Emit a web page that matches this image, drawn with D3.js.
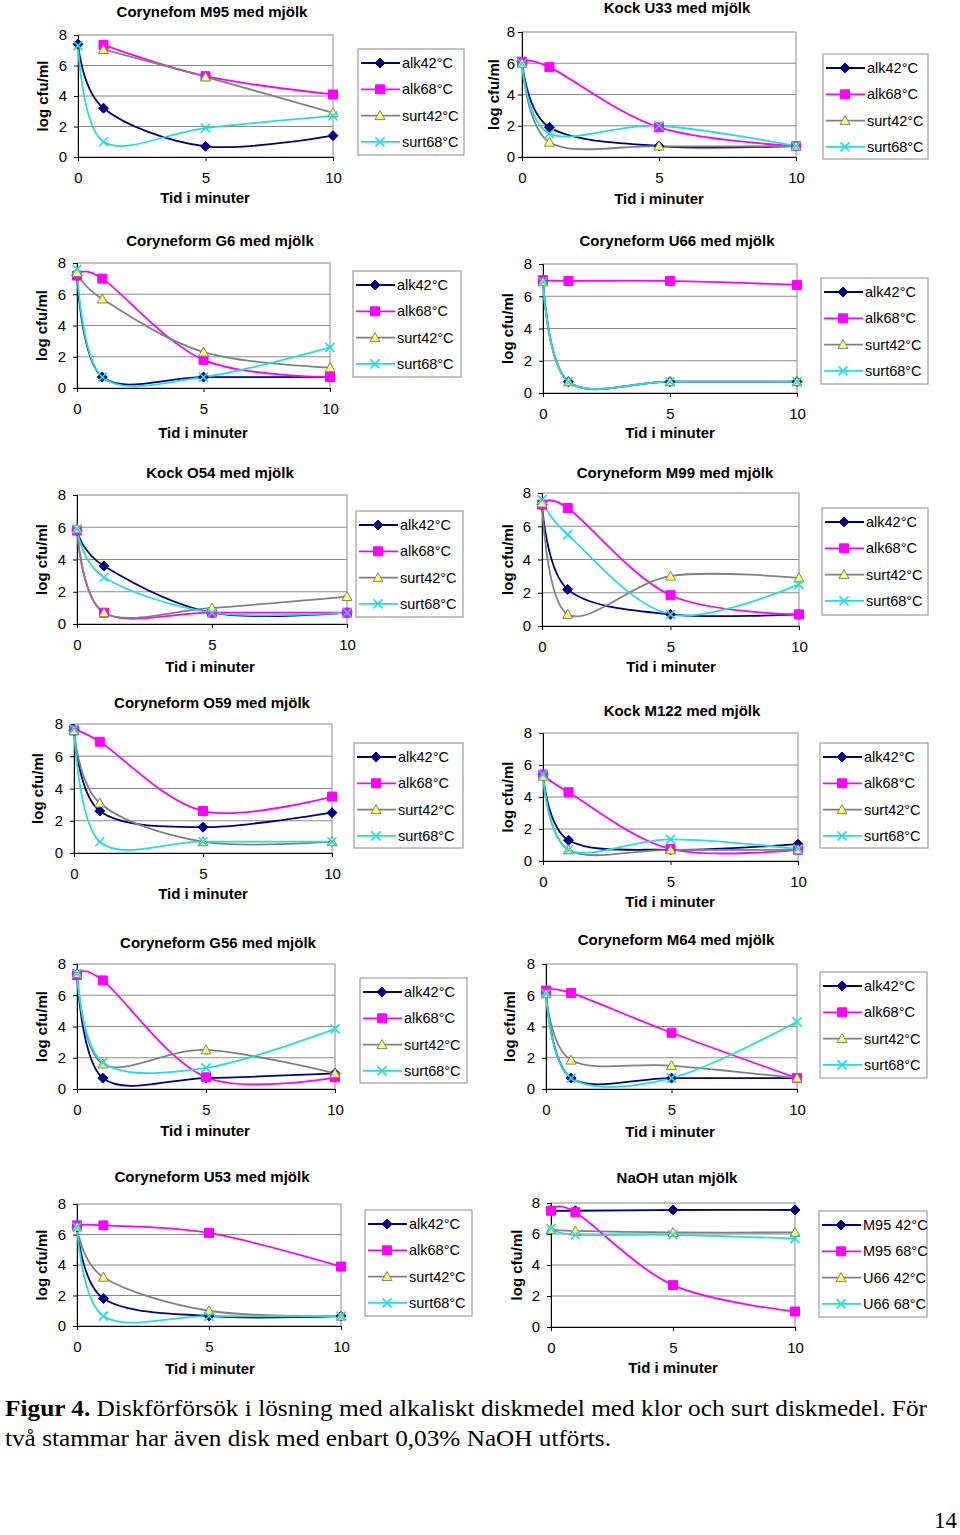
<!DOCTYPE html>
<html><head><meta charset="utf-8">
<script src="https://cdn.jsdelivr.net/npm/d3@7"></script>
<style>body{margin:0;background:#fff} svg{display:block}</style>
</head><body>
<svg id="c" width="960" height="1535"></svg>
<script>
// ---------- data ----------
const times = [0, 1, 5, 10];
const yTicks = [0, 2, 4, 6, 8];
const xTicks = [0, 5, 10];
const seriesMilk = ["alk42°C", "alk68°C", "surt42°C", "surt68°C"];
const seriesNaOH = ["M95 42°C", "M95 68°C", "U66 42°C", "U66 68°C"];
const titles = [
  "Corynefom M95 med mjölk", "Kock U33 med mjölk",
  "Coryneform G6 med mjölk", "Coryneform U66 med mjölk",
  "Kock O54 med mjölk", "Coryneform M99 med mjölk",
  "Coryneform O59 med mjölk", "Kock M122 med mjölk",
  "Coryneform G56 med mjölk", "Coryneform M64 med mjölk",
  "Coryneform U53 med mjölk", "NaOH utan mjölk"
];
const yTitle = "log cfu/ml";
const xTitle = "Tid i minuter";
// values per series at times 0,1,5,10 (log cfu/ml)
const M95  = [[7.4, 3.2, 0.7, 1.4], [null, 7.35, 5.3, 4.1], [null, 7.05, 5.25, 2.9], [7.3, 1.0, 1.9, 2.7]];
const U33  = [[6.1, 1.9, 0.7, 0.7], [6.1, 5.75, 1.9, 0.7], [6.0, 0.95, 0.7, 0.7], [6.0, 1.5, 2.0, 0.7]];
const G6   = [[7.2, 0.7, 0.7, 0.7], [7.2, 7.0, 1.8, 0.7], [7.4, 5.7, 2.3, 1.3], [7.6, 0.7, 0.7, 2.6]];
const U66  = [[7.0, 0.7, 0.7, 0.7], [7.0, 6.95, 6.95, 6.7], [6.9, 0.7, 0.7, 0.7], [6.9, 0.7, 0.7, 0.7]];
const O54  = [[5.8, 3.6, 0.7, 0.7], [5.8, 0.7, 0.7, 0.7], [5.9, 0.7, 1.0, 1.7], [5.9, 2.9, 0.7, 0.7]];
const M99  = [[7.3, 2.2, 0.7, 0.7], [7.3, 7.1, 1.85, 0.7], [7.4, 0.7, 3.0, 2.9], [7.6, 5.5, 0.7, 2.5]];
const O59  = [[7.6, 2.6, 1.6, 2.5], [7.6, 6.9, 2.6, 3.5], [7.6, 3.1, 0.7, 0.7], [7.7, 0.7, 0.7, 0.7]];
const M122 = [[5.4, 1.3, 0.7, 1.05], [5.4, 4.3, 0.75, 0.7], [5.3, 0.7, 0.7, 0.7], [5.4, 0.7, 1.35, 0.75]];
const G56  = [[7.3, 0.7, 0.7, 1.0], [7.3, 6.95, 0.75, 0.75], [7.4, 1.6, 2.5, 1.0], [7.4, 1.7, 1.35, 3.85]];
const M64  = [[6.2, 0.7, 0.7, 0.7], [6.3, 6.15, 3.6, 0.7], [6.1, 1.85, 1.5, 0.7], [6.1, 0.7, 0.7, 4.3]];
const U53  = [[6.5, 1.8, 0.65, 0.65], [6.6, 6.6, 6.1, 3.9], [6.5, 3.2, 1.0, 0.65], [6.5, 0.65, 0.65, 0.65]];
const NaOH = [[7.5, 7.5, 7.55, 7.55], [7.5, 7.4, 2.7, 1.0], [6.3, 6.2, 6.1, 6.1], [6.35, 5.95, 5.95, 5.7]];
const panelData = [M95, U33, G6, U66, O54, M99, O59, M122, G56, M64, U53, NaOH];
const panelSeries = [seriesMilk, seriesMilk, seriesMilk, seriesMilk, seriesMilk, seriesMilk,
                     seriesMilk, seriesMilk, seriesMilk, seriesMilk, seriesMilk, seriesNaOH];

// ---------- layout (pixels) ----------
const layout = [
  {x0: 78, x1: 333, yt: 35, yb: 157, lg: [358, 49, 106, 106], tt: [212, 12], yx: 43, xt: [205, 198], tp: 7},
  {x0: 522, x1: 796, yt: 32, yb: 157, lg: [823, 54, 105, 105], tt: [677, 8], yx: 494, xt: [659, 199], tp: 3},
  {x0: 77, x1: 330, yt: 263, yb: 388, lg: [353, 271, 108, 106], tt: [220, 241], yx: 42, xt: [203, 433], tp: 7},
  {x0: 543, x1: 797, yt: 264, yb: 393, lg: [821, 278, 107, 106], tt: [677, 241], yx: 508, xt: [670, 433], tp: 7},
  {x0: 77, x1: 347, yt: 495, yb: 624, lg: [356, 511, 107, 106], tt: [220, 473], yx: 42, xt: [210, 667], tp: 7},
  {x0: 542, x1: 799, yt: 493, yb: 626, lg: [822, 508, 106, 107], tt: [675, 473], yx: 508, xt: [671, 667], tp: 7},
  {x0: 74, x1: 332, yt: 724, yb: 853, lg: [354, 743, 109, 105], tt: [212, 703], yx: 38, xt: [203, 894], tp: 7},
  {x0: 543, x1: 798, yt: 733, yb: 861, lg: [820, 743, 108, 105], tt: [682, 711], yx: 508, xt: [670, 902], tp: 7},
  {x0: 77, x1: 335, yt: 964, yb: 1089, lg: [360, 978, 107, 105], tt: [218, 943], yx: 42, xt: [205, 1131], tp: 7},
  {x0: 546, x1: 797, yt: 964, yb: 1089, lg: [820, 972, 107, 106], tt: [676, 940], yx: 510, xt: [670, 1132], tp: 7},
  {x0: 77, x1: 341, yt: 1204, yb: 1326, lg: [365, 1210, 107, 106], tt: [212, 1177], yx: 42, xt: [210, 1369], tp: 7},
  {x0: 551, x1: 795, yt: 1203, yb: 1327, lg: [819, 1211, 108, 106], tt: [677, 1178], yx: 517, xt: [673, 1368], tp: 7}
];

// ---------- styles ----------
const FONT = "'Liberation Sans', Arial, sans-serif";
const lineColors = ["#000080", "#ff00ff", "#808080", "#22dede"];
const markerFill = ["#000080", "#ff00ff", "#ffff66", "none"];
const markerStroke = ["#000080", "#ff00ff", "#808080", "#22dede"];
const markerPaths = [
  "M0,-5L5,0L0,5L-5,0Z",
  "M-4.5,-4.5H4.5V4.5H-4.5Z",
  "M0,-5L5,4L-5,4Z",
  "M-4.5,-4.5L4.5,4.5M-4.5,4.5L4.5,-4.5"
];

const svg = d3.select("#c");
svg.append("rect").attr("width", 960).attr("height", 1535).attr("fill", "#fff");

function drawMarker(g, s, cx, cy) {
  g.append("path")
    .attr("d", markerPaths[s])
    .attr("transform", `translate(${cx},${cy})`)
    .attr("fill", markerFill[s])
    .attr("stroke", markerStroke[s])
    .attr("stroke-width", s === 3 ? 1.6 : 1);
}

panelData.forEach((data, i) => {
  const L = layout[i];
  const x = d3.scaleLinear().domain([0, 10]).range([L.x0, L.x1]);
  const y = d3.scaleLinear().domain([0, 8]).range([L.yb, L.yt]);
  const g = svg.append("g");

  // gridlines
  g.selectAll("line.grid").data([2, 4, 6]).join("line")
    .attr("x1", L.x0).attr("x2", L.x1)
    .attr("y1", d => y(d)).attr("y2", d => y(d))
    .attr("stroke", "#8a8a8a").attr("stroke-width", 1);
  // plot frame
  g.append("rect").attr("x", L.x0).attr("y", L.yt)
    .attr("width", L.x1 - L.x0).attr("height", L.yb - L.yt)
    .attr("fill", "none").attr("stroke", "#8a8a8a").attr("stroke-width", 1);

  // axes
  const ya = g.append("g").attr("transform", `translate(${L.x0},0)`)
    .call(d3.axisLeft(y).tickValues(yTicks).tickSize(4).tickPadding(L.tp).tickFormat(d3.format("d")));
  const xa = g.append("g").attr("transform", `translate(0,${L.yb})`)
    .call(d3.axisBottom(x).tickValues(xTicks).tickSize(4).tickPadding(11).tickFormat(d3.format("d")));
  [ya, xa].forEach(a => {
    a.select(".domain").attr("stroke", "#000");
    a.selectAll(".tick line").attr("stroke", "#000");
    a.selectAll("text").attr("font-family", FONT).attr("font-size", 15).attr("fill", "#000");
  });

  // series lines (smoothed like Excel)
  const line = d3.line()
    .defined(d => d[1] != null)
    .x(d => x(d[0])).y(d => y(d[1]))
    .curve(d3.curveCardinal.tension(0));
  data.forEach((vals, s) => {
    const pts = times.map((t, k) => [t, vals[k]]);
    g.append("path").attr("d", line(pts))
      .attr("fill", "none").attr("stroke", lineColors[s]).attr("stroke-width", 1.8);
  });
  data.forEach((vals, s) => {
    times.forEach((t, k) => {
      if (vals[k] != null) drawMarker(g, s, x(t), y(vals[k]));
    });
  });

  // title
  g.append("text").attr("x", L.tt[0]).attr("y", L.tt[1] + 5)
    .attr("text-anchor", "middle").attr("font-family", FONT)
    .attr("font-weight", "bold").attr("font-size", 15).text(titles[i]);
  // x title
  g.append("text").attr("x", L.xt[0]).attr("y", L.xt[1] + 5)
    .attr("text-anchor", "middle").attr("font-family", FONT)
    .attr("font-weight", "bold").attr("font-size", 15).text(xTitle);
  // y title
  const ym = (L.yt + L.yb) / 2;
  g.append("text").attr("transform", `translate(${L.yx + 5},${ym}) rotate(-90)`)
    .attr("text-anchor", "middle").attr("font-family", FONT)
    .attr("font-weight", "bold").attr("font-size", 15).text(yTitle);

  // legend
  const [lx, ly, lw, lh] = L.lg;
  const lg = g.append("g");
  lg.append("rect").attr("x", lx).attr("y", ly).attr("width", lw).attr("height", lh)
    .attr("fill", "#fff").attr("stroke", "#8a8a8a").attr("stroke-width", 1);
  panelSeries[i].forEach((name, s) => {
    const ey = ly + 14 + s * 26.3;
    lg.append("line").attr("x1", lx + 3).attr("x2", lx + 42).attr("y1", ey).attr("y2", ey)
      .attr("stroke", lineColors[s]).attr("stroke-width", 1.8);
    drawMarker(lg, s, lx + 22, ey);
    lg.append("text").attr("x", lx + 44).attr("y", ey + 5)
      .attr("font-family", FONT).attr("font-size", 14.5).text(name);
  });
});

// caption
const SERIF = "'Liberation Serif', 'Times New Roman', serif";
const cap1 = svg.append("text").attr("x", 5).attr("y", 1416)
  .attr("font-family", SERIF).attr("font-size", 23)
  .attr("textLength", 922).attr("lengthAdjust", "spacingAndGlyphs");
cap1.append("tspan").attr("font-weight", "bold").text("Figur 4.");
cap1.append("tspan").text(" Diskförförsök i lösning med alkaliskt diskmedel med klor och surt diskmedel. För");
svg.append("text").attr("x", 5).attr("y", 1446)
  .attr("font-family", SERIF).attr("font-size", 23)
  .attr("textLength", 606).attr("lengthAdjust", "spacingAndGlyphs")
  .text("två stammar har även disk med enbart 0,03% NaOH utförts.");
svg.append("text").attr("x", 957).attr("y", 1528).attr("text-anchor", "end")
  .attr("font-family", SERIF).attr("font-size", 23).text("14");
</script>
</body></html>
